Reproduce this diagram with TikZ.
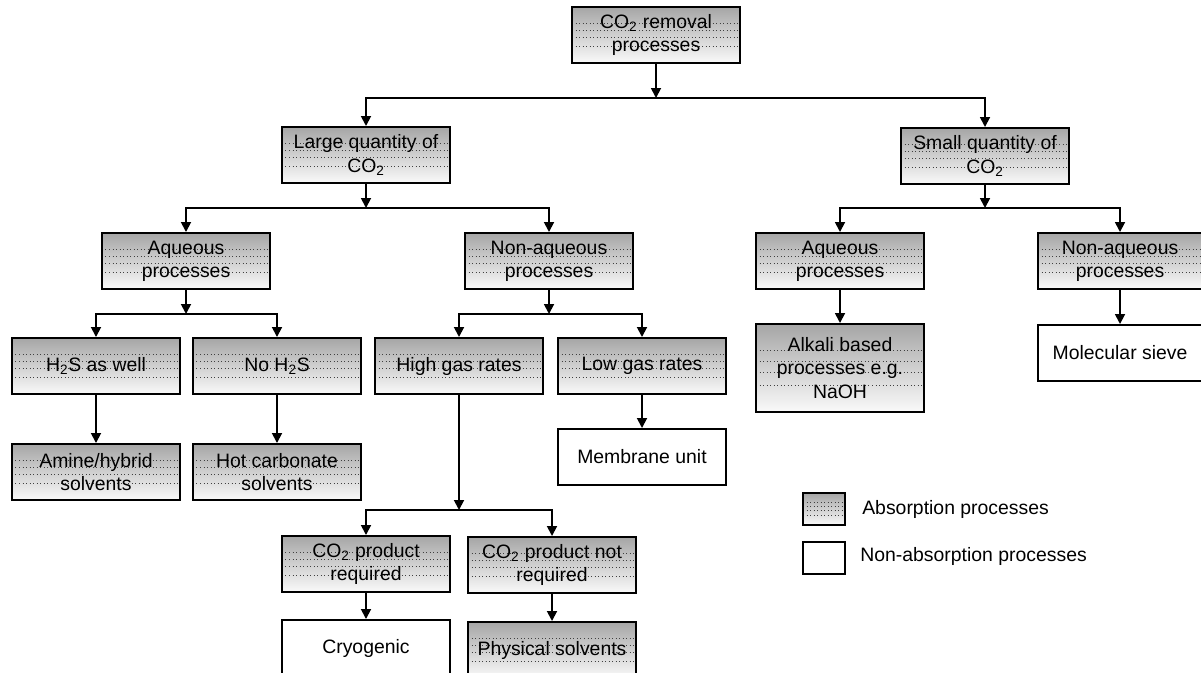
\documentclass[tikz,border=0pt]{standalone}
\usepackage{fontspec}
\setmainfont{Liberation Sans}
\usetikzlibrary{calc,arrows.meta}

\begin{document}
\begin{tikzpicture}[x=0.025cm, y=-0.025cm,
    font=\fontsize{13.8}{16.5}\selectfont,
    box/.style={draw, line width=1.4pt, minimum width=4.2cm, minimum height=1.4cm,
        align=center, inner sep=2pt},
    absorb/.style={box, top color=gray!70, bottom color=gray!4,
        path picture={\foreach \f in {0.3,0.42,0.55,0.7}
            \draw[black!75, dotted, line width=0.5pt]
            ($(path picture bounding box.north west)!\f!(path picture bounding box.south west)$) --
            ($(path picture bounding box.north east)!\f!(path picture bounding box.south east)$);}},
    plain/.style={box, fill=white},
    arr/.style={line width=1.3pt, -{Triangle[length=7pt,width=7pt]}},
    bus/.style={line width=1.3pt}]
    \useasboundingbox (0,0) rectangle (1201,672);

    % --- level 0 and 1 ---
    \node[absorb] (top) at (656,35) {CO\textsubscript{2} removal\\processes};
    \node[absorb] (large) at (366,155) {Large quantity of\\CO\textsubscript{2}};
    \node[absorb] (small) at (985,156) {Small quantity of\\CO\textsubscript{2}};

    % --- level 2 ---
    \node[absorb] (aqL) at (186,261) {Aqueous\\processes};
    \node[absorb] (naqL) at (549,261) {Non-aqueous\\processes};
    \node[absorb] (aqR) at (840,261) {Aqueous\\processes};
    \node[absorb, minimum width=4.1cm] (naqR) at (1120,261) {Non-aqueous\\processes};

    % --- level 3 ---
    \node[absorb] (h2s) at (96,366) {H\textsubscript{2}S as well};
    \node[absorb] (noh2s) at (277,366) {No H\textsubscript{2}S};
    \node[absorb] (high) at (459,366) {High gas rates};
    \node[absorb] (low) at (642,366) {Low gas rates};
    \node[absorb, minimum height=2.2cm] (alkali) at (840,368) {Alkali based\\processes e.g.\\NaOH};
    \node[plain, minimum width=4.1cm] (sieve) at (1120,353) {Molecular sieve};

    % --- level 4 ---
    \node[absorb] (amine) at (96,472) {Amine/hybrid\\solvents};
    \node[absorb] (hot) at (277,472) {Hot carbonate\\solvents};
    \node[plain] (membrane) at (642,457) {Membrane unit};
    \node[absorb] (req) at (366,564) {CO\textsubscript{2} product\\required};
    \node[absorb] (notreq) at (552,565) {CO\textsubscript{2} product not\\required};
    \node[plain] (cryo) at (366,648) {Cryogenic};
    \node[absorb] (phys) at (552,650) {Physical solvents};

    % --- bus lines ---
    \coordinate (b1) at (0,98);
    \coordinate (b2) at (0,208);
    \coordinate (b3) at (0,314);
    \coordinate (b4) at (0,510);

    \draw[arr] (top.south) -- (top.south |- b1);
    \draw[arr] (top.south |- b1) -| (large.north);
    \draw[arr] (top.south |- b1) -| (small.north);

    \draw[arr] (large.south) -- (large.south |- b2);
    \draw[arr] (large.south |- b2) -| (aqL.north);
    \draw[arr] (large.south |- b2) -| (naqL.north);
    \draw[arr] (small.south) -- (small.south |- b2);
    \draw[arr] (small.south |- b2) -| (aqR.north);
    \draw[arr] (small.south |- b2) -| (naqR.north);

    \draw[arr] (aqL.south) -- (aqL.south |- b3);
    \draw[arr] (aqL.south |- b3) -| (h2s.north);
    \draw[arr] (aqL.south |- b3) -| (noh2s.north);
    \draw[arr] (naqL.south) -- (naqL.south |- b3);
    \draw[arr] (naqL.south |- b3) -| (high.north);
    \draw[arr] (naqL.south |- b3) -| (low.north);
    \draw[arr] (aqR.south) -- (alkali.north);
    \draw[arr] (naqR.south) -- (sieve.north);

    \draw[arr] (h2s.south) -- (amine.north);
    \draw[arr] (noh2s.south) -- (hot.north);
    \draw[arr] (low.south) -- (membrane.north);
    \draw[arr] (high.south) -- (high.south |- b4);
    \draw[arr] (high.south |- b4) -| (req.north);
    \draw[arr] (high.south |- b4) -| (notreq.north);
    \draw[arr] (req.south) -- (cryo.north);
    \draw[arr] (notreq.south) -- (phys.north);

    % --- legend ---
    \node[absorb, minimum width=1.05cm, minimum height=0.8cm] (legabs) at (824,509) {};
    \node[plain, minimum width=1.05cm, minimum height=0.8cm] (legnon) at (824,558) {};
    \node[anchor=west, inner sep=0pt] (legabstxt) at (862,509) {Absorption processes};
    \node[anchor=west, inner sep=0pt] (legnontxt) at (860,556) {Non-absorption processes};
\end{tikzpicture}
\end{document}
